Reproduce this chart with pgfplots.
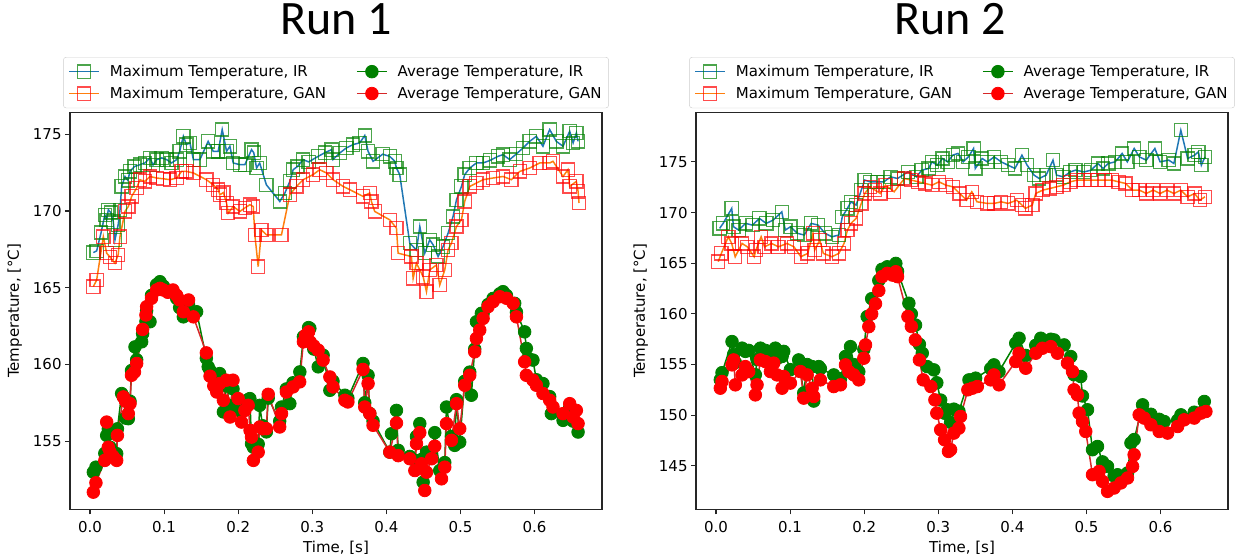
\documentclass[border=0pt]{standalone}
\usepackage{fontspec}
\setmainfont{DejaVu Sans}
\newfontfamily\titlefont{Carlito}
\usepackage{pgfplots}
\usepackage{pgfplotstable}
\pgfplotsset{compat=1.18}
\definecolor{tabblue}{HTML}{1F77B4}
\definecolor{taborange}{HTML}{FF7F0E}
\definecolor{tabred}{HTML}{D62728}
\definecolor{mgreen}{HTML}{008000}
\definecolor{mred}{HTML}{FF0000}

% ---------------- Run 1 ----------------
\pgfplotstableread{
t T
0.0045 167.29
0.009 167.4
0.015 168.6
0.020 169.75
0.0225 169.42
0.0247 170.08
0.028 169.9
0.0314 169.31
0.0337 168.12
0.038 169.1
0.0405 170.08
0.0427 171.6
0.0472 172.25
0.051 172.0
0.054 172.58
0.060 172.9
0.0674 173.02
0.074 173.13
0.081 173.46
0.085 173.0
0.0899 173.35
0.0967 173.46
0.1034 173.35
0.110 173.13
0.117 173.35
0.121 173.89
0.126 174.87
0.130 174.33
0.1349 174.44
0.1395 173.35
0.1483 173.35
0.1595 174.54
0.1663 173.89
0.173 173.89
0.1784 175.31
0.1843 173.89
0.1888 174.22
0.1933 173.13
0.2023 173.02
0.209 173.02
0.218 174.0
0.221 173.8
0.2248 172.8
0.229 173.13
0.238 171.71
0.2562 170.62
0.263 171.17
0.2697 171.93
0.2742 172.69
0.280 172.9
0.2877 173.35
0.295 173.2
0.3079 173.56
0.317 173.8
0.326 174.0
0.328 173.35
0.337 173.78
0.346 174.11
0.355 174.33
0.364 174.44
0.3708 174.92
0.3753 173.89
0.382 173.24
0.395 173.7
0.4046 173.56
0.4113 173.24
0.4136 172.8
0.418 172.37
0.4316 167.9
0.4406 167.46
0.4451 168.99
0.4518 167.25
0.4585 168.12
0.463 167.8
0.4698 167.03
0.4765 167.68
0.4833 168.56
0.49 169.64
0.4946 170.73
0.5013 171.6
0.5057 172.37
0.5125 172.8
0.5215 173.13
0.5305 173.13
0.54 173.3
0.5506 173.56
0.5574 173.67
0.5664 173.35
0.575 173.7
0.5844 174.11
0.5934 174.54
0.6024 174.87
0.6113 174.22
0.6204 175.31
0.6293 174.54
0.6384 174.22
0.6474 175.2
0.652 174.44
0.6564 175.09
0.6587 174.54
}\raMaxIR

\pgfplotstableread{
t T
0.0045 165.07
0.009 165.5
0.018 168.33
0.0225 167.25
0.027 167.0
0.0337 166.6
0.038 167.14
0.0405 168.33
0.0472 169.97
0.0517 170.29
0.0562 170.95
0.063 171.5
0.0674 172.04
0.074 171.93
0.081 172.25
0.0899 172.15
0.099 172.1
0.1079 172.04
0.117 172.15
0.1236 172.58
0.130 172.58
0.1395 172.48
0.157 172.04
0.1663 171.71
0.173 171.39
0.1753 171.06
0.18 171.2
0.1843 170.52
0.1865 169.86
0.1933 170.29
0.2023 169.97
0.209 170.2
0.2158 170.41
0.2203 170.29
0.2225 168.44
0.227 166.37
0.2315 168.77
0.2382 168.44
0.2584 168.44
0.2697 171.06
0.2787 171.6
0.2877 172.04
0.301 172.37
0.310 172.69
0.319 172.48
0.3281 172.04
0.3416 171.6
0.3506 171.39
0.3685 170.95
0.3776 171.17
0.3798 170.62
0.3843 169.97
0.4046 169.42
0.4136 168.88
0.4158 167.25
0.4338 167.03
0.4361 165.61
0.4406 166.6
0.4496 165.72
0.4541 164.74
0.4585 166.16
0.4676 166.48
0.472 165.18
0.4788 166.16
0.4833 167.46
0.4878 167.9
0.4946 168.99
0.5013 169.42
0.5057 170.62
0.5125 171.6
0.5215 171.82
0.5305 172.04
0.544 172.15
0.5574 172.25
0.5687 172.04
0.58 172.58
0.5934 172.8
0.6069 173.13
0.6204 173.13
0.6249 173.24
0.6384 172.25
0.645 172.69
0.6474 171.6
0.6564 171.93
0.6587 171.28
0.660 170.52
}\raMaxGAN

\pgfplotstableread{
t T
0.0045 152.97
0.008 153.3
0.020 154.2
0.0225 155.37
0.0247 155.8
0.027 154.6
0.031 154.3
0.036 154.18
0.037 155.8
0.0427 158.1
0.045 157.9
0.048 156.5
0.0517 156.46
0.054 157.6
0.056 159.6
0.0607 161.14
0.063 160.3
0.0697 161.47
0.071 162.0
0.0755 162.8
0.0764 163.5
0.081 162.78
0.083 164.5
0.0899 165.2
0.0944 165.39
0.099 165.1
0.105 164.8
0.112 164.7
0.117 164.3
0.121 163.7
0.126 163.1
0.133 163.9
0.1395 163.2
0.1439 163.43
0.157 160.4
0.1595 159.84
0.162 159.6
0.167 159.3
0.171 158.5
0.175 159.4
0.180 156.9
0.184 158.6
0.189 157.3
0.193 158.4
0.200 157.2
0.2045 156.9
0.209 157.6
0.2135 157.7
0.2158 157.77
0.218 154.83
0.2205 154.6
0.227 154.8
0.229 157.33
0.233 156.0
0.238 155.6
0.2405 157.8
0.256 156.3
0.2585 157.22
0.265 158.4
0.2697 157.44
0.274 158.8
0.2832 159.51
0.288 161.8
0.295 162.4
0.2967 162.35
0.302 161.0
0.308 159.84
0.3146 160.6
0.3237 158.31
0.328 158.9
0.344 157.99
0.348 157.8
0.3685 160.06
0.3708 157.5
0.3753 159.29
0.3776 156.8
0.382 156.3
0.4046 154.28
0.4068 155.48
0.4136 157.0
0.4159 154.4
0.4316 154.0
0.4384 153.74
0.4406 155.3
0.4451 156.14
0.4474 153.8
0.4496 152.32
0.4541 154.28
0.461 154.0
0.4653 155.55
0.472 153.08
0.4788 153.6
0.4811 157.22
0.4878 155.3
0.4922 154.72
0.4946 157.7
0.499 154.93
0.5057 158.9
0.5125 159.5
0.5147 157.99
0.5192 161.0
0.5215 162.78
0.5282 163.33
0.5305 163.3
0.5372 163.9
0.544 164.3
0.553 164.6
0.5574 164.74
0.562 164.5
0.5732 163.98
0.5755 163.4
0.5866 162.12
0.5889 161.04
0.591 160.4
0.5978 160.28
0.6024 159.0
0.6113 158.75
0.6204 157.9
0.6226 156.79
0.6384 156.35
0.6474 157.2
0.652 156.3
0.6587 155.59
}\raAvgIR

\pgfplotstableread{
t T
0.0045 151.67
0.008 152.28
0.020 153.74
0.0225 156.24
0.0247 154.6
0.027 154.28
0.031 154.0
0.036 153.74
0.037 155.37
0.045 157.88
0.048 157.6
0.0517 156.79
0.054 157.44
0.056 159.29
0.060 159.5
0.063 160.06
0.071 162.28
0.0755 163.22
0.0764 163.76
0.083 164.31
0.0899 164.85
0.0944 164.96
0.099 164.85
0.105 164.7
0.112 164.85
0.117 164.5
0.121 164.2
0.126 163.43
0.133 164.2
0.1395 163.1
0.157 160.75
0.162 159.23
0.167 158.6
0.171 158.2
0.175 158.75
0.180 157.66
0.184 158.97
0.189 156.57
0.193 158.97
0.200 157.77
0.2045 156.24
0.209 157.0
0.2135 157.33
0.216 155.7
0.218 155.26
0.2205 153.74
0.227 154.28
0.229 155.92
0.233 155.8
0.238 155.81
0.2405 158.05
0.256 155.92
0.2585 156.79
0.265 158.2
0.274 158.53
0.283 158.86
0.288 161.47
0.291 161.9
0.295 162.12
0.297 161.47
0.302 161.2
0.308 160.93
0.3146 160.28
0.3237 159.18
0.328 158.53
0.344 157.66
0.348 157.55
0.3685 159.67
0.3708 157.22
0.3753 158.75
0.3776 156.79
0.382 156.03
0.4046 154.28
0.4136 156.18
0.4159 154.05
0.4316 153.85
0.4384 153.08
0.4406 154.83
0.4451 155.55
0.4474 153.52
0.4518 151.78
0.4541 152.97
0.461 153.85
0.4653 154.67
0.4744 152.54
0.4788 153.3
0.4811 156.14
0.4878 155.05
0.4946 157.44
0.499 155.81
0.5057 158.64
0.5125 159.29
0.5192 160.82
0.5215 161.69
0.526 162.24
0.5305 163.0
0.5372 163.76
0.544 164.09
0.553 164.41
0.562 164.31
0.571 163.98
0.5755 163.1
0.5866 160.17
0.5889 159.29
0.5978 158.97
0.6024 158.64
0.6113 158.1
0.6204 157.66
0.6249 157.22
0.6384 156.79
0.6474 157.44
0.652 156.57
0.6564 157.0
0.6587 156.14
}\raAvgGAN

% ---------------- Run 2 ----------------
\pgfplotstableread{
t T
0.0049 168.44
0.0096 168.93
0.0212 170.41
0.0236 168.6
0.0305 168.27
0.0399 168.93
0.0492 168.76
0.0585 169.42
0.0678 168.93
0.0772 169.26
0.0888 170.07
0.0935 168.27
0.1005 168.6
0.1098 167.95
0.1191 167.78
0.1284 168.93
0.1378 168.76
0.1471 167.95
0.1564 167.61
0.1658 167.78
0.1704 169.58
0.1774 170.41
0.1821 171.06
0.1891 170.74
0.1961 172.21
0.2007 173.2
0.2077 173.03
0.2170 173.03
0.2264 173.03
0.2357 173.52
0.2450 173.36
0.2590 174.01
0.2706 173.52
0.2776 174.18
0.2870 174.35
0.2916 175.0
0.2986 174.67
0.3056 175.33
0.3126 175.0
0.3196 175.66
0.3266 175.83
0.3336 175.0
0.3406 175.49
0.3476 176.32
0.3499 174.35
0.3592 175.33
0.3662 175.0
0.3755 175.49
0.3849 175.0
0.3942 174.67
0.4035 174.35
0.4129 175.66
0.4199 174.67
0.4292 173.69
0.4362 173.36
0.4455 173.69
0.4548 175.17
0.4595 173.69
0.4688 173.52
0.4781 174.01
0.4851 174.18
0.4968 174.01
0.5061 174.18
0.5154 174.84
0.5224 174.35
0.5294 174.84
0.5387 175.0
0.5481 175.83
0.5551 175.0
0.5644 176.32
0.5714 175.49
0.5807 175.17
0.5923 176.32
0.5993 175.0
0.6110 175.17
0.6180 174.84
0.6273 178.12
0.6366 175.33
0.6459 175.66
0.6510 175.99
0.6550 174.67
0.6599 175.49
}\rbMaxIR

\pgfplotstableread{
t T
0.0030 165.15
0.0072 165.97
0.0166 167.61
0.0212 166.95
0.0259 165.64
0.0352 166.95
0.0422 166.62
0.0515 165.64
0.0538 166.29
0.0609 167.61
0.0655 166.62
0.0749 166.95
0.0842 166.62
0.0958 166.95
0.1052 166.62
0.1145 165.64
0.1238 165.97
0.1308 167.94
0.1331 166.29
0.1401 167.28
0.1448 165.97
0.1564 165.64
0.1658 165.97
0.1728 166.95
0.1774 168.27
0.1821 168.93
0.1891 169.42
0.1961 170.9
0.2007 171.88
0.2077 172.54
0.2147 172.21
0.2217 171.88
0.2287 172.7
0.2404 172.05
0.2543 173.36
0.2636 173.2
0.2730 173.03
0.2823 172.87
0.2916 172.7
0.3009 173.03
0.3103 172.7
0.3196 172.54
0.3289 171.88
0.3382 171.22
0.3452 172.05
0.3522 171.06
0.3662 170.9
0.3755 170.9
0.3849 171.06
0.3942 170.9
0.4059 171.22
0.4129 170.74
0.4175 170.41
0.4269 170.74
0.4315 171.88
0.4409 172.21
0.4502 172.37
0.4595 172.54
0.4688 172.7
0.4781 173.03
0.4875 173.2
0.4968 173.2
0.5061 173.2
0.5154 173.2
0.5247 173.2
0.5341 173.2
0.5434 173.03
0.5527 172.87
0.5620 172.21
0.5714 172.21
0.5807 171.88
0.5900 172.21
0.5993 171.88
0.6087 172.21
0.6180 171.88
0.6273 172.21
0.6366 171.55
0.6459 171.88
0.6529 171.22
0.6599 171.55
}\rbMaxGAN

\pgfplotstableread{
t T
0.0058 153.5
0.0081 154.2
0.0216 157.27
0.0238 156.0
0.0261 155.2
0.0351 156.62
0.0396 156.3
0.0441 156.4
0.0531 154.0
0.0554 155.5
0.0599 156.62
0.0666 156.4
0.0734 156.2
0.0800 156.62
0.0824 155.6
0.0892 155.8
0.0914 156.3
0.1004 154.5
0.1116 155.46
0.1184 152.2
0.1230 155.0
0.1297 154.8
0.1319 151.4
0.1387 154.8
0.1409 154.6
0.1589 153.98
0.1680 153.6
0.1747 155.8
0.1815 156.77
0.1859 155.0
0.1927 154.3
0.1995 156.5
0.2040 159.73
0.2101 161.5
0.2197 163.3
0.2240 164.4
0.2311 164.65
0.2380 164.5
0.2427 164.98
0.2450 164.2
0.2603 161.05
0.2636 160.0
0.2693 158.9
0.2745 157.0
0.2784 156.12
0.2850 154.8
0.2940 154.48
0.2980 153.2
0.3032 151.5
0.3085 150.2
0.3122 150.54
0.3166 149.3
0.3210 150.6
0.3278 150.4
0.3414 153.49
0.3460 153.5
0.3504 153.66
0.3707 154.6
0.3750 154.97
0.3819 154.3
0.4045 157.1
0.4090 157.6
0.4180 155.9
0.4315 156.9
0.4383 157.6
0.4518 157.5
0.4562 157.43
0.4698 156.94
0.4788 155.79
0.4832 154.0
0.4923 153.82
0.4946 151.9
0.5014 150.54
0.5081 146.6
0.5149 146.92
0.5216 145.4
0.5284 144.95
0.5373 144.0
0.5419 144.13
0.5554 144.3
0.5600 147.26
0.5643 147.6
0.5757 151.03
0.5869 150.1
0.5981 149.6
0.6049 149.38
0.6230 149.5
0.6275 150.04
0.6454 150.3
0.6590 151.36
}\rbAvgIR

\pgfplotstableread{
t T
0.0058 152.67
0.0081 153.33
0.0216 154.97
0.0238 155.46
0.0261 153.0
0.0351 153.98
0.0396 154.8
0.0441 154.31
0.0531 152.01
0.0554 153.0
0.0599 155.46
0.0666 155.3
0.0734 154.31
0.0779 155.14
0.0824 153.98
0.0892 152.67
0.0914 153.82
0.1004 153.17
0.1139 154.31
0.1184 151.69
0.1230 153.98
0.1297 152.67
0.1319 151.85
0.1409 153.49
0.1589 152.83
0.1680 153.0
0.1747 154.97
0.1792 154.31
0.1859 153.98
0.1927 153.49
0.1995 155.63
0.2018 156.94
0.2062 158.74
0.2101 160.0
0.2153 161.0
0.2197 162.3
0.2240 163.67
0.2311 164.0
0.2380 163.83
0.2427 164.16
0.2450 163.67
0.2590 159.74
0.2636 158.76
0.2690 157.43
0.2745 155.46
0.2796 153.49
0.2900 152.83
0.2954 151.52
0.2980 150.21
0.3032 148.57
0.3085 147.58
0.3137 146.43
0.3166 146.6
0.3210 148.24
0.3278 148.73
0.3300 149.88
0.3399 152.51
0.3460 152.67
0.3527 152.83
0.3707 153.49
0.3751 153.98
0.3819 153.0
0.4045 155.3
0.4090 156.12
0.4180 154.64
0.4315 156.12
0.4405 156.61
0.4518 156.77
0.4608 156.12
0.4743 155.14
0.4811 154.31
0.4832 152.51
0.4878 152.01
0.4900 150.21
0.4946 149.38
0.4990 148.4
0.5081 144.13
0.5170 144.46
0.5216 143.47
0.5284 142.49
0.5373 142.82
0.5464 143.32
0.5554 143.81
0.5622 144.95
0.5643 146.1
0.5711 150.04
0.5778 149.72
0.5869 149.06
0.5981 148.4
0.6095 148.24
0.6230 148.89
0.6319 149.55
0.6454 149.72
0.6545 150.21
0.6612 150.37
}\rbAvgGAN

\newcommand{\txt}{\fontsize{15}{18}\selectfont}

\pgfplotsset{
  runaxis/.style={
    scale only axis, width=532pt, height=397.3pt,
    xmin=-0.027, xmax=0.691,
    tick align=outside, tick pos=left,
    major tick length=4.9pt,
    axis line style={line width=1.1pt, black!85},
    every tick/.style={black!85, line width=1.1pt},
    xtick={0,0.1,0.2,0.3,0.4,0.5,0.6},
    xticklabels={0.0,0.1,0.2,0.3,0.4,0.5,0.6},
    ticklabel style={font=\txt},
    xticklabel style={yshift=-3pt},
    label style={font=\txt},
    xlabel={Time, [s]},
    ylabel={Temperature, [°C]},
    xlabel style={yshift=-2pt},
    ylabel style={yshift=4pt},
    legend columns=2, transpose legend,
    legend cell align=left,
    legend style={at={(0.5,1)}, anchor=south, yshift=4pt,
      draw=black!20, rounded corners=3pt, fill=white, font=\txt,
      inner xsep=5pt, inner ysep=6pt, row sep=5pt,
      /tikz/every odd column/.append style={column sep=8pt},
      /tikz/every even column/.append style={column sep=28pt}},
    legend image code/.code={%
      \draw[mark repeat=2,mark phase=2,#1] plot coordinates {(0pt,0pt) (15pt,0pt) (30pt,0pt)};},
  },
  maxir/.style={tabblue, line width=1.5pt, mark=square, mark size=6.6pt,
    mark options={draw=mgreen, draw opacity=0.7, line width=1.3pt, solid}},
  maxgan/.style={taborange, line width=1.5pt, mark=square, mark size=6.6pt,
    mark options={draw=mred, draw opacity=0.7, line width=1.3pt, solid}},
  avgir/.style={mgreen, line width=1.5pt, mark=*, mark size=6.3pt,
    mark options={draw=mgreen, fill=mgreen, line width=0.8pt, solid}},
  avggan/.style={tabred, line width=1.5pt, mark=*, mark size=6.3pt,
    mark options={draw=mred, fill=mred, line width=0.8pt, solid}},
}

\begin{document}
\begin{tikzpicture}
\path[use as bounding box] (0,0) rectangle (1237pt,558pt);

\begin{axis}[runaxis, at={(70pt,48.5pt)}, anchor=south west,
  ymin=150.54, ymax=176.44,
  ytick={155,160,165,170,175}, yticklabels={155,160,165,170,175}]
\addplot[maxir] table {\raMaxIR};
\addlegendentry{Maximum Temperature, IR}
\addplot[maxgan] table {\raMaxGAN};
\addlegendentry{Maximum Temperature, GAN}
\addplot[avgir] table {\raAvgIR};
\addlegendentry{Average Temperature, IR}
\addplot[avggan] table {\raAvgGAN};
\addlegendentry{Average Temperature, GAN}
\end{axis}

\begin{axis}[runaxis, at={(696pt,48.5pt)}, anchor=south west,
  ymin=140.7, ymax=179.9,
  ytick={145,150,155,160,165,170,175}, yticklabels={145,150,155,160,165,170,175}]
\addplot[maxir] table {\rbMaxIR};
\addlegendentry{Maximum Temperature, IR}
\addplot[maxgan] table {\rbMaxGAN};
\addlegendentry{Maximum Temperature, GAN}
\addplot[avgir] table {\rbAvgIR};
\addlegendentry{Average Temperature, IR}
\addplot[avggan] table {\rbAvgGAN};
\addlegendentry{Average Temperature, GAN}
\end{axis}

\node[font=\titlefont\fontsize{48}{52}\selectfont, anchor=base] at (336pt,523pt) {Run 1};
\node[font=\titlefont\fontsize{48}{52}\selectfont, anchor=base] at (950pt,523pt) {Run 2};
\end{tikzpicture}
\end{document}
